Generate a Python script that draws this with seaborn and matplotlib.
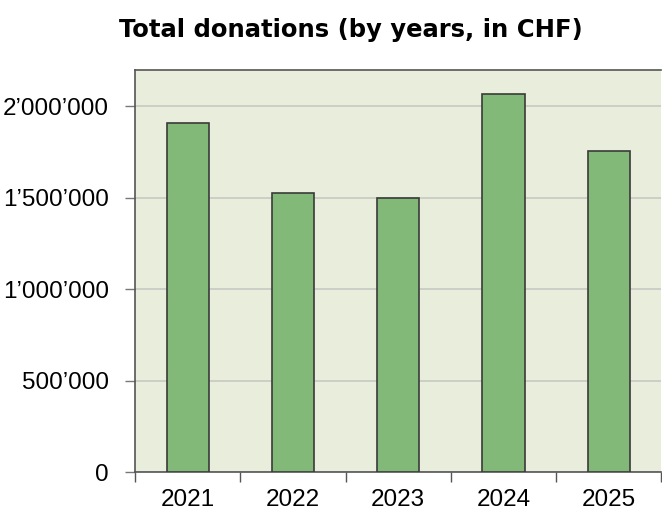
import seaborn as sns
import matplotlib.pyplot as plt
import pandas as pd
from matplotlib.ticker import FuncFormatter

# Values
years = ["2021", "2022", "2023", "2024", "2025"]
donations = [1910000, 1528000, 1500000, 2068000, 1754000]
y_ticks = [0, 500000, 1000000, 1500000, 2000000]

data = pd.DataFrame({"Year": years, "Donations": donations})

sns.set_style("white")
plt.rcParams['font.family'] = ['Liberation Sans', 'DejaVu Sans']

fig = plt.figure(figsize=(6.62, 5.17), dpi=100)
ax = fig.add_axes([0.204, 0.087, 0.795, 0.778])
ax.set_facecolor("#e8eedb")

sns.barplot(data=data, x="Year", y="Donations", color="#82b878", saturation=1,
            width=0.4, edgecolor="#3a3a3a", linewidth=1.2, ax=ax, zorder=3)

ax.set_ylim(0, 2200000)
ax.set_xlim(-0.5, len(years) - 0.5)
ax.set_yticks(y_ticks)
ax.yaxis.set_major_formatter(FuncFormatter(lambda v, p: f"{v:,.0f}".replace(",", "\u2019")))
ax.grid(axis="y", color="#c8c9c2", linewidth=1.2, zorder=0)

# ticks on category boundaries, labels at centres
ax.set_xticks([i - 0.5 for i in range(len(years) + 1)])
ax.set_xticklabels([])
ax.set_xticks(range(len(years)), minor=True)
ax.set_xticklabels(years, minor=True)
ax.tick_params(axis="x", which="major", length=7, width=1, color="#555555", direction="out", bottom=True)
ax.tick_params(axis="x", which="minor", length=0, labelsize=17.5, labelcolor="black", pad=12)
ax.tick_params(axis="y", length=7, width=1, color="#777777", labelsize=17.5,
               labelcolor="black", left=True, pad=12)

for side in ["top", "left", "bottom"]:
    ax.spines[side].set_color("#555555")
    ax.spines[side].set_linewidth(1.2)
ax.spines["right"].set_visible(False)

ax.set_xlabel("")
ax.set_ylabel("")
fig.suptitle("Total donations (by years, in CHF)", x=0.53, y=0.965, fontsize=17.5,
             fontweight="heavy", color="black", family="DejaVu Sans")

fig.savefig("out.png", dpi=100)
